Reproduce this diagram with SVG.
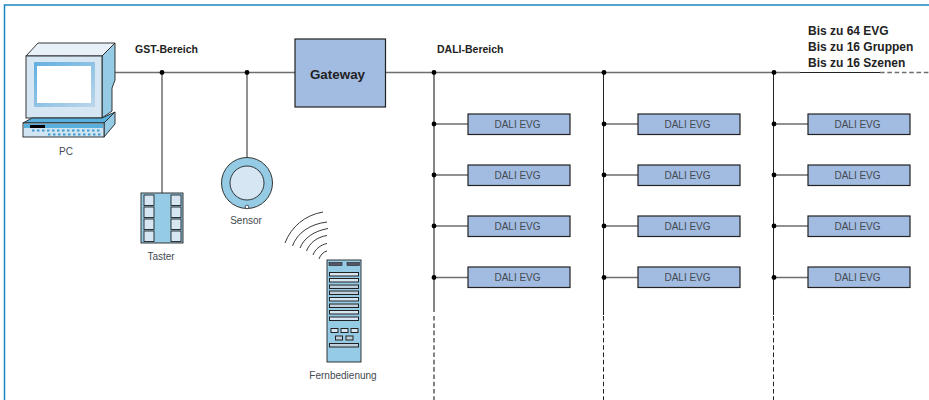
<svg xmlns="http://www.w3.org/2000/svg" width="929" height="400" viewBox="0 0 929 400">
<style>
text{font-family:"Liberation Sans",Arial,sans-serif;fill:#444a50;font-size:10px;text-anchor:middle}
.b{font-weight:bold;fill:#222;text-anchor:start}
.w{fill:none;stroke:#6e6e6e;stroke-width:1.500}
.v{fill:none;stroke:#777;stroke-width:1.800}
.k{fill:none;stroke:#222;stroke-width:1}
.d{stroke-dasharray:4.600 2.700}
.box{fill:#a2bbe0;stroke:#222;stroke-width:1.200}
.lb{fill:#96cbe6;stroke:#222;stroke-width:.9}
.pale{fill:#d6e6f3;stroke:#222;stroke-width:.9}
.arc{fill:none;stroke:#222;stroke-width:.9}
.r{fill:#d6e6f3;stroke:#222;stroke-width:1}
.g{fill:#bcd0dc;stroke:#222;stroke-width:1}
</style>
<defs>
<linearGradient id="bezel" x1="0" y1="0" x2="1" y2="1"><stop offset="0" stop-color="#62afe0"/><stop offset="1" stop-color="#bcd6ea"/></linearGradient>
<g id="evg"><rect class="box" x="0" y="0" width="102" height="20.500"/><text x="49.500" y="14">DALI EVG</text></g>
</defs>
<path d="M4.500 400V5H929" fill="none" stroke="#1b84c0" stroke-width="1.500"/>
<g id="connectors">
<path class="w" d="M115 72.500H295M385 72.500H800M162 72.500V193M247 72.500V157"/>
<path class="v" d="M434 72.500V312"/>
<path class="k" d="M800 72.500H880M603.500 72.500V315M773.500 72.500V315"/>
<path class="w d" d="M880 72.500H929"/>
<path class="v d" d="M434 316V400"/>
<path class="k d" d="M603.500 316V400M773.500 316V400"/>
<path class="w" d="M434 124H468M434 175H468M434 226H468M434 277.500H468M604 124H638M604 175H638M604 226H638M604 277.500H638M774 124H808M774 175H808M774 226H808M774 277.500H808"/>
<g fill="#000"><circle cx="162" cy="72.500" r="2.400"/><circle cx="247" cy="72.500" r="2.400"/><circle cx="434" cy="72.500" r="2.400"/><circle cx="604" cy="72.500" r="2.400"/><circle cx="774" cy="72.500" r="2.400"/>
<circle cx="434" cy="124" r="2.400"/><circle cx="434" cy="175" r="2.400"/><circle cx="434" cy="226" r="2.400"/><circle cx="434" cy="277.500" r="2.400"/>
<circle cx="604" cy="124" r="2.400"/><circle cx="604" cy="175" r="2.400"/><circle cx="604" cy="226" r="2.400"/><circle cx="604" cy="277.500" r="2.400"/>
<circle cx="774" cy="124" r="2.400"/><circle cx="774" cy="175" r="2.400"/><circle cx="774" cy="226" r="2.400"/><circle cx="774" cy="277.500" r="2.400"/></g>
</g>
<g id="pc">
<path d="M26 56L38 43H115L102 56Z" fill="#e8f1f8" stroke="#222" stroke-width=".9"/>
<path class="lb" d="M102 56L115 43V80L112 88V111L102 118Z"/>
<rect class="pale" x="26" y="56" width="76" height="62"/>
<rect x="34" y="62" width="61" height="45" rx="1" fill="url(#bezel)"/>
<rect x="37" y="66" width="54" height="37" fill="#fff"/>
<path d="M23 123L32 118H102L115 112L104 123Z" fill="#58b0dc" stroke="#222" stroke-width=".9"/>
<path d="M104 123L115 112V124L104 137Z" fill="#96cbe6" stroke="#222" stroke-width=".9"/>
<rect x="23" y="123" width="81" height="14" fill="#d0e4f2" stroke="#222" stroke-width=".9"/>
<rect x="24" y="124" width="79" height="4" fill="#58b0dc"/>
<rect x="30" y="125" width="15" height="3" fill="#000"/>
<path d="M32 130.500H100M48 134.500H102" stroke="#3d9bd2" stroke-width="2" stroke-dasharray="2.500 2.500" fill="none"/>
<text x="66" y="155">PC</text>
</g>
<g id="taster">
<rect class="lb" x="141" y="193" width="42" height="50" stroke-width="1.200"/>
<rect class="pale" x="144" y="195" width="10" height="10.500"/><rect class="pale" x="144" y="207" width="10" height="10.500"/><rect class="pale" x="144" y="219" width="10" height="10.500"/><rect class="pale" x="144" y="231" width="10" height="10.500"/>
<rect class="pale" x="171" y="195" width="10" height="10.500"/><rect class="pale" x="171" y="207" width="10" height="10.500"/><rect class="pale" x="171" y="219" width="10" height="10.500"/><rect class="pale" x="171" y="231" width="10" height="10.500"/>
<text x="161" y="260">Taster</text>
</g>
<g id="sensor">
<circle class="lb" cx="247" cy="183" r="25.500"/>
<circle class="pale" cx="247" cy="183" r="17"/>
<circle cx="247" cy="207" r="1.800" fill="#fff" stroke="#222" stroke-width=".7"/>
<text x="246" y="224">Sensor</text>
</g>
<g id="fernbedienung">
<path class="arc" d="M319 259C320.500 255 323 252 327 251M313 255C315 249.500 320 245 327 243.500M306.500 251C309.500 243 317 237 327 235.500M300 248C304 238 314 231 328 228.500M292.500 246C297 233 310 224 327 222M285 243C291 227 305 215 323 212"/>
<rect class="lb" x="327" y="260" width="34" height="102" stroke-width="1.100"/>
<rect x="329" y="262.500" width="13" height="3" fill="#556" stroke="#222" stroke-width=".6"/><rect x="347" y="262.500" width="12.500" height="3" fill="#556" stroke="#222" stroke-width=".6"/>
<rect class="r" x="329.500" y="272.500" width="29" height="3.500"/><rect class="r" x="329.500" y="278.500" width="29" height="3.500"/><rect class="g" x="329.500" y="285" width="29" height="3.500"/><rect class="g" x="329.500" y="291" width="29" height="3.500"/><rect class="r" x="329.500" y="297.500" width="29" height="3.500"/><rect class="g" x="329.500" y="304" width="29" height="3.500"/><rect class="r" x="329.500" y="310.500" width="29" height="3.500"/><rect class="r" x="329.500" y="317" width="29" height="3.500"/>
<rect class="r" x="331" y="328.500" width="7" height="4"/><rect class="r" x="341" y="328.500" width="7" height="4"/><rect class="r" x="351" y="328.500" width="7" height="4"/>
<rect class="g" x="335.500" y="336" width="7" height="4"/><rect class="g" x="346" y="336" width="7" height="4"/>
<rect class="g" x="329.500" y="343.500" width="29" height="3.500"/>
<text x="343" y="379">Fernbedienung</text>
</g>
<g id="gateway"><rect class="box" x="295" y="39" width="90.500" height="68"/><text x="337.500" y="79" style="font-weight:bold;font-size:13.400px;fill:#222">Gateway</text></g>
<g id="evg-1-1" transform="translate(468 114)"><use href="#evg"/></g>
<g id="evg-1-2" transform="translate(468 165)"><use href="#evg"/></g>
<g id="evg-1-3" transform="translate(468 216)"><use href="#evg"/></g>
<g id="evg-1-4" transform="translate(468 267)"><use href="#evg"/></g>
<g id="evg-2-1" transform="translate(638 114)"><use href="#evg"/></g>
<g id="evg-2-2" transform="translate(638 165)"><use href="#evg"/></g>
<g id="evg-2-3" transform="translate(638 216)"><use href="#evg"/></g>
<g id="evg-2-4" transform="translate(638 267)"><use href="#evg"/></g>
<g id="evg-3-1" transform="translate(808 114)"><use href="#evg"/></g>
<g id="evg-3-2" transform="translate(808 165)"><use href="#evg"/></g>
<g id="evg-3-3" transform="translate(808 216)"><use href="#evg"/></g>
<g id="evg-3-4" transform="translate(808 267)"><use href="#evg"/></g>
<g id="labels">
<text class="b" x="135" y="53" style="font-size:10.500px">GST-Bereich</text>
<text class="b" x="437" y="53" style="font-size:10.500px">DALI-Bereich</text>
<text class="b" x="808" y="35" style="font-size:12px">Bis zu 64 EVG</text>
<text class="b" x="808" y="51" style="font-size:12px">Bis zu 16 Gruppen</text>
<text class="b" x="808" y="67" style="font-size:12px">Bis zu 16 Szenen</text>
</g>
</svg>
